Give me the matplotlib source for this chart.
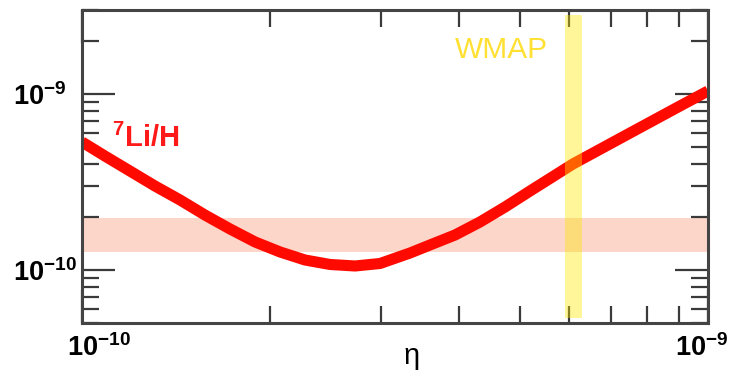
import matplotlib
matplotlib.use("Agg")
import matplotlib.pyplot as plt
import matplotlib.transforms as mtransforms
from matplotlib.ticker import FixedLocator, LogLocator, NullFormatter, FixedFormatter

# ---- data ----
eta = [1.000e-10, 1.088e-10, 1.193e-10, 1.308e-10, 1.434e-10, 1.573e-10,
       1.724e-10, 1.890e-10, 2.072e-10, 2.271e-10, 2.490e-10, 2.730e-10,
       2.993e-10, 3.342e-10, 3.596e-10, 3.944e-10, 4.323e-10, 4.740e-10,
       5.197e-10, 6.085e-10, 7.506e-10, 9.022e-10, 1.000e-9]
li_h = [5.34e-10, 4.44e-10, 3.65e-10, 3.00e-10, 2.50e-10, 2.05e-10,
        1.71e-10, 1.443e-10, 1.266e-10, 1.140e-10, 1.075e-10, 1.054e-10,
        1.089e-10, 1.249e-10, 1.387e-10, 1.581e-10, 1.874e-10, 2.280e-10,
        2.811e-10, 4.003e-10, 6.001e-10, 8.55e-10, 1.040e-9]
obs_band = [1.26e-10, 1.97e-10]      # observed Li/H range
wmap_band = [5.9e-10, 6.3e-10]       # WMAP eta range
x_ticks = [1e-10, 1e-9]
x_ticklabels = [r"$10^{-10}$", r"$10^{-9}$"]
y_ticks = [1e-10, 1e-9]
y_ticklabels = [r"$10^{-10}$", r"$10^{-9}$"]

plt.rcParams["mathtext.fontset"] = "custom"
plt.rcParams["mathtext.rm"] = "Liberation Sans:bold"
plt.rcParams["mathtext.it"] = "Liberation Sans:bold"
plt.rcParams["mathtext.bf"] = "Liberation Sans:bold"
plt.rcParams["font.family"] = ["Liberation Sans", "DejaVu Sans"]

W, H = 733, 374
fig = plt.figure(figsize=(W / 100, H / 100), dpi=100)
ax = fig.add_axes([82 / W, (H - 323) / H, (708 - 82) / W, (323 - 10) / H])

ax.set_xscale("log")
ax.set_yscale("log")
ax.set_xlim(1e-10, 1e-9)
ax.set_ylim(5e-11, 3e-9)

# bands and curve
ax.axhspan(obs_band[0], obs_band[1], color="#fbd6c9", zorder=1, lw=0)
ax.plot(eta, li_h, color="#ff0a00", lw=8, solid_capstyle="butt",
        solid_joinstyle="round", zorder=2)
ax.axvspan(wmap_band[0], wmap_band[1], ymin=0.016, ymax=0.984,
           color="#ffe600", alpha=0.4, lw=0, zorder=3)

# ticks
ax.xaxis.set_major_locator(FixedLocator(x_ticks))
ax.xaxis.set_major_formatter(FixedFormatter(x_ticklabels))
ax.xaxis.set_minor_locator(LogLocator(base=10, subs=range(2, 10)))
ax.xaxis.set_minor_formatter(NullFormatter())
ax.yaxis.set_major_locator(FixedLocator(y_ticks))
ax.yaxis.set_major_formatter(FixedFormatter(y_ticklabels))
ax.yaxis.set_minor_locator(LogLocator(base=10, subs=range(2, 10)))
ax.yaxis.set_minor_formatter(NullFormatter())

tc = "#3a3a3a"
ax.tick_params(which="both", direction="in", top=True, right=True, color=tc, width=1.6)
ax.tick_params(which="major", length=24)
ax.tick_params(which="minor", length=12)
ax.tick_params(axis="x", which="major", pad=8, labelsize=19.5)
ax.tick_params(axis="y", which="major", pad=49.5, labelsize=19.5)
for lab in ax.get_yticklabels():
    lab.set_horizontalalignment("left")
xl = ax.get_xticklabels()
xl[0].set_transform(xl[0].get_transform() +
                    mtransforms.ScaledTranslation(17 / 100, 0, fig.dpi_scale_trans))
xl[1].set_transform(xl[1].get_transform() +
                    mtransforms.ScaledTranslation(-6 / 100, 0, fig.dpi_scale_trans))

for sp in ax.spines.values():
    sp.set_color("#444444")
    sp.set_linewidth(2.2)
    sp.set_zorder(5)

# texts
fig.text(112 / W, (H - 147) / H, r"$^{7}$Li/H", color="#ff1a1a", fontsize=21,
         fontweight="bold", ha="left", va="baseline")
fig.text(455 / W, (H - 58) / H, "WMAP", color="#ffe033", fontsize=21.5,
         ha="left", va="baseline")
fig.text(412 / W, (H - 364) / H, "η", color="black", fontsize=21,
         ha="center", va="baseline")

fig.savefig("out.png", dpi=100)
